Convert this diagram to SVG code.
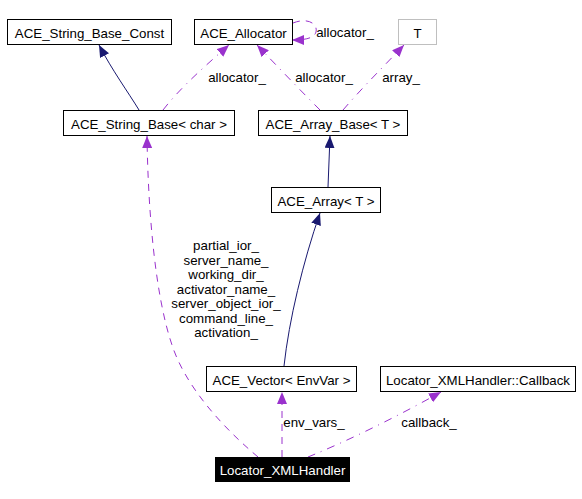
<svg xmlns="http://www.w3.org/2000/svg" width="582" height="499" viewBox="0 0 582 499">
<style>
text{font-family:"Liberation Sans",Arial,sans-serif;font-size:13.3px;fill:#000;text-anchor:middle}
.box{fill:#fff;stroke:#000;stroke-width:1}
.gray{fill:#fff;stroke:#bfbfbf;stroke-width:1}
.inh{fill:none;stroke:#191970;stroke-width:1}
.use{fill:none;stroke:#9a32cd;stroke-width:1;stroke-dasharray:7,6}
.use2{fill:none;stroke:#9a32cd;stroke-width:1;stroke-dasharray:8,6,1,6}
</style>
<defs>
<marker id="an" markerUnits="userSpaceOnUse" markerWidth="13" markerHeight="11" refX="12" refY="5" orient="auto"><path d="M0,0 L12,5 L0,10 z" fill="#191970"/></marker>
<marker id="ap" markerUnits="userSpaceOnUse" markerWidth="13" markerHeight="11" refX="12" refY="5" orient="auto"><path d="M0,0 L12,5 L0,10 z" fill="#9a32cd"/></marker>
</defs>
<rect width="582" height="499" fill="#fff"/>
<g id="connectors">
<path class="inh" d="M139,110 C128,92 112,70 99,45" marker-end="url(#an)"/>
<path class="use2" d="M163,110 C180,88 205,66 229,45" marker-end="url(#ap)"/>
<path class="use2" d="M320,110 C300,90 277,66 257,45" marker-end="url(#ap)"/>
<path class="use2" d="M343,110 C362,88 384,66 404,45" marker-end="url(#ap)"/>
<path class="use" d="M293,23 C308,17 318,24 316,32 C314,39 303,40 292,40" marker-end="url(#ap)"/>
<path class="inh" d="M328,187 L330,136" marker-end="url(#an)"/>
<path class="inh" d="M284,366 C289,320 303,262 320,213" marker-end="url(#an)"/>
<path class="use" d="M258,457 C220,425 185,385 172,345 C155,295 148,210 147,136" marker-end="url(#ap)"/>
<path class="use" d="M282,457 L282,392" marker-end="url(#ap)"/>
<path class="use2" d="M308,457 C350,440 400,415 441,392" marker-end="url(#ap)"/>
<text x="237" y="82">allocator_</text>
<text x="324" y="82">allocator_</text>
<text x="401" y="82">array_</text>
<text x="345" y="37">allocator_</text>
<text x="226" y="250">partial_ior_</text>
<text x="226" y="264.5">server_name_</text>
<text x="226" y="279">working_dir_</text>
<text x="226" y="293.5">activator_name_</text>
<text x="226" y="308">server_object_ior_</text>
<text x="226" y="322.5">command_line_</text>
<text x="226" y="337">activation_</text>
<text x="314" y="427">env_vars_</text>
<text x="429" y="427">callback_</text>
</g>
<g id="ACE_String_Base_Const"><rect class="box" x="7.5" y="19.5" width="164" height="25"/><text x="89.5" y="37.5">ACE_String_Base_Const</text></g>
<g id="ACE_Allocator"><rect class="box" x="194.5" y="19.5" width="98" height="25"/><text x="243.5" y="37.5">ACE_Allocator</text></g>
<g id="T"><rect class="gray" x="398.5" y="19.5" width="38" height="25"/><text x="417.5" y="37.5">T</text></g>
<g id="ACE_String_Base_char"><rect class="box" x="63.5" y="110.5" width="171" height="25"/><text x="149" y="128.5">ACE_String_Base&lt; char &gt;</text></g>
<g id="ACE_Array_Base_T"><rect class="box" x="258.5" y="110.5" width="149" height="25"/><text x="333" y="128.5">ACE_Array_Base&lt; T &gt;</text></g>
<g id="ACE_Array_T"><rect class="box" x="271.5" y="187.5" width="109" height="25"/><text x="326" y="205.5">ACE_Array&lt; T &gt;</text></g>
<g id="ACE_Vector_EnvVar"><rect class="box" x="206.5" y="366.5" width="150" height="25"/><text x="281.5" y="384.5">ACE_Vector&lt; EnvVar &gt;</text></g>
<g id="Callback"><rect class="box" x="380.5" y="366.5" width="195" height="25"/><text x="478" y="384.5">Locator_XMLHandler::Callback</text></g>
<g id="Locator_XMLHandler"><rect x="215" y="457" width="135" height="25" fill="#000"/><text x="282.5" y="475" style="fill:#fff">Locator_XMLHandler</text></g>
</svg>
